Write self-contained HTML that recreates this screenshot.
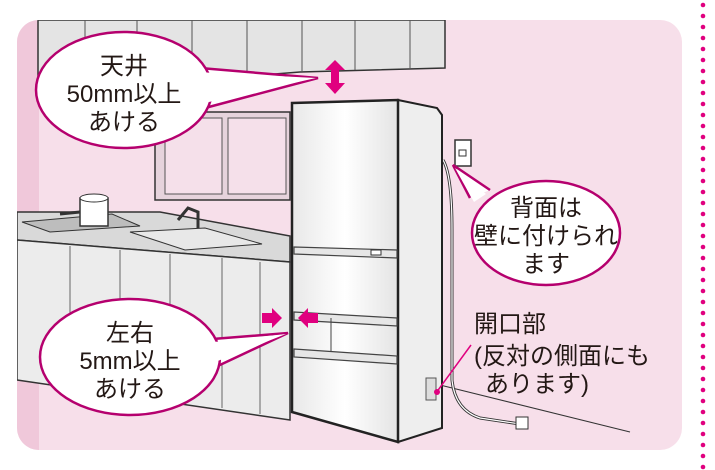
<!DOCTYPE html>
<html><head><meta charset="utf-8"><style>
html,body{margin:0;padding:0;background:#fff;}
svg{display:block;}
text{font-family:"Liberation Sans","Noto Sans CJK JP",sans-serif;fill:#231815;}
</style></head><body>
<svg width="715" height="470" viewBox="0 0 715 470" xmlns="http://www.w3.org/2000/svg">
<defs>
<clipPath id="pc"><rect x="17" y="20" width="665" height="430" rx="22"/></clipPath>
<linearGradient id="fg" x1="0" x2="1"><stop offset="0" stop-color="#e8e8e8"/><stop offset="0.5" stop-color="#fff"/><stop offset="1" stop-color="#e4e4e4"/></linearGradient>
</defs>
<rect x="17" y="20" width="665" height="430" rx="22" fill="#f7dfea"/>
<g clip-path="url(#pc)">
 <rect x="17" y="20" width="22" height="430" fill="#f0c8da"/>
 <polygon points="38,20 445,20 445,68 300,72 200,80 38,82" fill="#e4e4e4" stroke="#333" stroke-width="1.5"/>
 <g stroke="#555" stroke-width="1"><line x1="85" y1="20" x2="85" y2="82"/><line x1="137" y1="20" x2="137" y2="80"/><line x1="192" y1="20" x2="192" y2="78"/><line x1="247" y1="20" x2="247" y2="75"/><line x1="302" y1="20" x2="302" y2="72"/><line x1="355" y1="20" x2="355" y2="70"/><line x1="410" y1="20" x2="410" y2="68"/></g>
 <rect x="155" y="112" width="135" height="88" fill="#e6d3dc" stroke="#333" stroke-width="1.5"/>
 <rect x="165" y="118" width="57" height="76" fill="#f5e0ea" stroke="#555"/>
 <rect x="228" y="118" width="58" height="76" fill="#f5e0ea" stroke="#555"/>
 <polygon points="17,212 160,212 290,236 290,262 17,240" fill="#d9d9d9" stroke="#333" stroke-width="1.5"/>
 <polygon points="22,222 112,214 140,226 50,232" fill="#bdbdbd" stroke="#333"/>
 <polygon points="130,232 205,228 262,244 185,250" fill="#e8e8e8" stroke="#333"/>
 <rect x="80" y="198" width="28" height="28" fill="#fff" stroke="#333" stroke-width="1.5"/>
 <ellipse cx="94" cy="198" rx="14" ry="4" fill="#fff" stroke="#333"/>
 <line x1="60" y1="214" x2="80" y2="212" stroke="#333" stroke-width="3"/>
 <path d="M178 220 L188 208 L198 212 L198 228" fill="none" stroke="#333" stroke-width="3"/>
 <polygon points="17,240 290,262 290,420 17,380" fill="#ececec" stroke="#333" stroke-width="1.5"/>
 <g stroke="#666"><line x1="70" y1="246" x2="70" y2="388"/><line x1="120" y1="250" x2="120" y2="395"/><line x1="170" y1="254" x2="170" y2="400"/><line x1="222" y1="258" x2="222" y2="408"/><line x1="260" y1="262" x2="260" y2="414"/></g>
 <line x1="440" y1="385" x2="630" y2="432" stroke="#333" stroke-width="1"/>
 <rect x="455" y="140" width="16" height="26" fill="#fff" stroke="#333" stroke-width="1.5"/>
 <rect x="459" y="150" width="7" height="6" fill="none" stroke="#333"/>
 <path d="M443 160 Q452 175 452 230 L452 380 Q455 410 480 418 L520 424" fill="none" stroke="#333" stroke-width="3"/>
 <path d="M443 160 Q452 175 452 230 L452 380 Q455 410 480 418 L520 424" fill="none" stroke="#fff" stroke-width="1.2"/>
 <rect x="516" y="417" width="12" height="12" fill="#fff" stroke="#333"/>
 <polygon points="398,100 437,108 442,115 442,428 398,442" fill="#eee" stroke="#222" stroke-width="2"/>
 <polygon points="292,103 398,100 398,442 292,412" fill="url(#fg)" stroke="#222" stroke-width="2.5"/>
 <g stroke="#444" stroke-width="1.2" fill="#e6e6e6">
  <polygon points="294,247 397,250 397,258 294,254"/>
  <polygon points="294,312 397,318 397,326 294,320"/>
  <polygon points="294,349 397,356 397,364 294,357"/>
 </g>
 <line x1="331" y1="318" x2="331" y2="352" stroke="#444"/>
 <rect x="371" y="250" width="10" height="5" fill="#fff" stroke="#333"/>
 <rect x="426" y="378" width="10" height="22" fill="#ddd" stroke="#555"/>
 <line x1="436" y1="393" x2="471" y2="345" stroke="#e0007f" stroke-width="1.5"/>
 <circle cx="437" cy="392" r="3" fill="#e0007f"/>
 <polygon points="335,60 345,70 339,70 339,83 345,83 335,94 325,83 331,83 331,70 325,70" fill="#e0007f"/>
 <polygon points="262,313 272,313 272,308 282,318 272,328 272,323 262,323" fill="#e0007f"/>
 <polygon points="318,313 308,313 308,308 298,318 308,328 308,323 318,323" fill="#e0007f"/>
 <g fill="#fff" stroke="#b5006e" stroke-width="2.5">
  <path d="M200 68 L318 78 L205 108"/>
  <ellipse cx="124" cy="90" rx="88" ry="58"/>
  <path d="M470 198 L453 165 L490 190"/>
  <ellipse cx="546" cy="233" rx="74" ry="52"/>
  <path d="M200 340 L288 333 L205 372"/>
  <ellipse cx="130" cy="357" rx="90" ry="58"/>
 </g>
 <g fill="#fff"><path d="M196 72 L316 78 L200 104Z"/><path d="M474 202 L455 168 L486 194Z"/><path d="M196 344 L286 334 L200 368Z"/></g>
 <g font-size="24" text-anchor="middle">
  <text x="124" y="74">天井</text>
  <text x="124" y="102">50mm以上</text>
  <text x="124" y="130">あける</text>
  <text x="546" y="216">背面は</text>
  <text x="546" y="244">壁に付けられ</text>
  <text x="546" y="272">ます</text>
  <text x="130" y="341">左右</text>
  <text x="130" y="369">5mm以上</text>
  <text x="130" y="397">あける</text>
 </g>
 <g font-size="24">
  <text x="474" y="332">開口部</text>
  <text x="474" y="364">(反対の側面にも</text>
  <text x="485" y="392">あります)</text>
 </g>
</g>
<g fill="#e0007f">
 <circle cx="703" cy="5" r="2.3"/><circle cx="703" cy="16" r="2.3"/><circle cx="703" cy="27" r="2.3"/><circle cx="703" cy="38" r="2.3"/><circle cx="703" cy="49" r="2.3"/><circle cx="703" cy="60" r="2.3"/><circle cx="703" cy="71" r="2.3"/><circle cx="703" cy="82" r="2.3"/><circle cx="703" cy="93" r="2.3"/><circle cx="703" cy="104" r="2.3"/><circle cx="703" cy="115" r="2.3"/><circle cx="703" cy="126" r="2.3"/><circle cx="703" cy="137" r="2.3"/><circle cx="703" cy="148" r="2.3"/><circle cx="703" cy="159" r="2.3"/><circle cx="703" cy="170" r="2.3"/><circle cx="703" cy="181" r="2.3"/><circle cx="703" cy="192" r="2.3"/><circle cx="703" cy="203" r="2.3"/><circle cx="703" cy="214" r="2.3"/><circle cx="703" cy="225" r="2.3"/><circle cx="703" cy="236" r="2.3"/><circle cx="703" cy="247" r="2.3"/><circle cx="703" cy="258" r="2.3"/><circle cx="703" cy="269" r="2.3"/><circle cx="703" cy="280" r="2.3"/><circle cx="703" cy="291" r="2.3"/><circle cx="703" cy="302" r="2.3"/><circle cx="703" cy="313" r="2.3"/><circle cx="703" cy="324" r="2.3"/><circle cx="703" cy="335" r="2.3"/><circle cx="703" cy="346" r="2.3"/><circle cx="703" cy="357" r="2.3"/><circle cx="703" cy="368" r="2.3"/><circle cx="703" cy="379" r="2.3"/><circle cx="703" cy="390" r="2.3"/><circle cx="703" cy="401" r="2.3"/><circle cx="703" cy="412" r="2.3"/><circle cx="703" cy="423" r="2.3"/><circle cx="703" cy="434" r="2.3"/><circle cx="703" cy="445" r="2.3"/><circle cx="703" cy="456" r="2.3"/><circle cx="703" cy="467" r="2.3"/>
</g>
</svg>
</body></html>
